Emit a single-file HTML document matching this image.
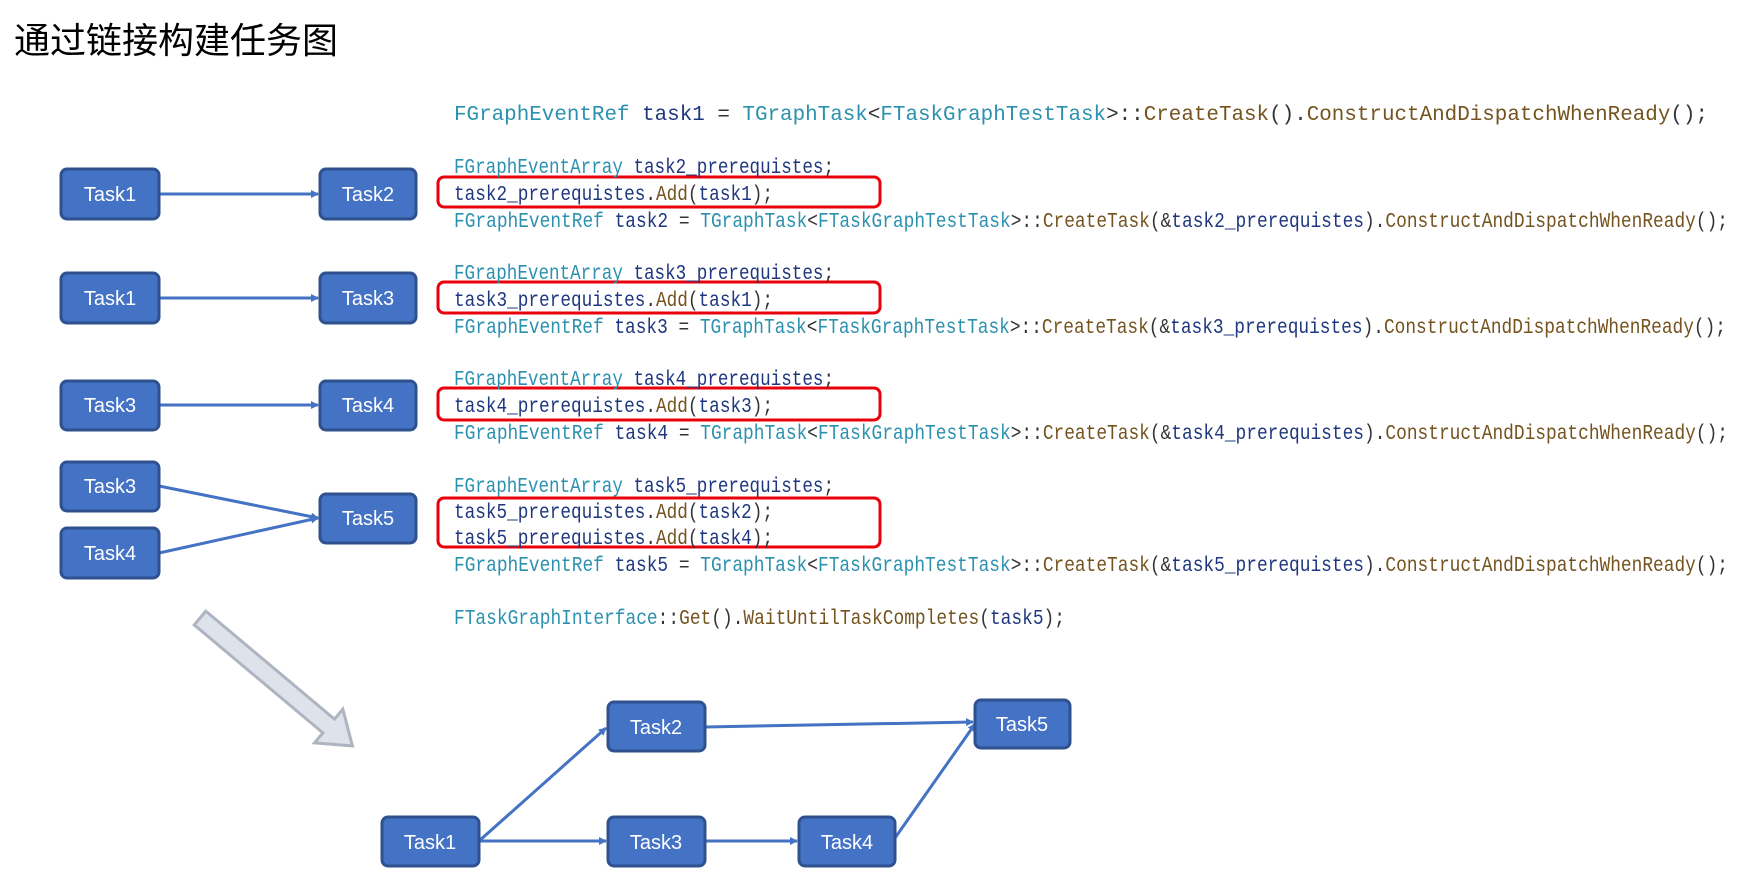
<!DOCTYPE html>
<html><head><meta charset="utf-8"><style>
body{margin:0;background:#fff;width:1748px;height:874px;overflow:hidden;position:relative}
.t{position:absolute;left:14px;top:12px;font:36px "Liberation Sans","Noto Sans CJK SC",sans-serif;color:#000}
</style></head><body>
<div class="t">通过链接构建任务图</div>
<svg width="1748" height="874" style="position:absolute;left:0;top:0">
<defs><marker id="a" markerWidth="8" markerHeight="8" refX="7" refY="4" orient="auto" markerUnits="userSpaceOnUse"><path d="M0,0 L8,4 L0,8z" fill="#4472C4"/></marker></defs>
<g stroke="#4472C4" stroke-width="3" fill="none" marker-end="url(#a)">
<line x1="159" y1="194" x2="318" y2="194"/>
<line x1="159" y1="298" x2="318" y2="298"/>
<line x1="159" y1="405" x2="318" y2="405"/>
<line x1="159" y1="486" x2="318" y2="518"/>
<line x1="159" y1="553" x2="318" y2="518"/>
<line x1="479" y1="841" x2="606" y2="728"/>
<line x1="705" y1="727" x2="973" y2="722"/>
<line x1="479" y1="841" x2="606" y2="841"/>
<line x1="705" y1="841" x2="797" y2="841"/>
<line x1="895" y1="838" x2="975" y2="724"/>
</g>
<g fill="#4472C4" stroke="#2F528F" stroke-width="3">
<rect x="61" y="169" width="98" height="50" rx="6"/><rect x="320" y="169" width="96" height="50" rx="6"/>
<rect x="61" y="273" width="98" height="50" rx="6"/><rect x="320" y="273" width="96" height="50" rx="6"/>
<rect x="61" y="381" width="98" height="49" rx="6"/><rect x="320" y="381" width="96" height="49" rx="6"/>
<rect x="61" y="462" width="98" height="49" rx="6"/><rect x="61" y="528" width="98" height="50" rx="6"/><rect x="320" y="494" width="96" height="49" rx="6"/>
<rect x="608" y="702" width="97" height="49" rx="6"/><rect x="975" y="700" width="95" height="48" rx="6"/>
<rect x="382" y="817" width="97" height="49" rx="6"/><rect x="608" y="817" width="97" height="49" rx="6"/><rect x="799" y="817" width="96" height="49" rx="6"/>
</g>
<g fill="#fff" font-family="Liberation Sans,sans-serif" font-size="20" text-anchor="middle">
<text x="110" y="201">Task1</text><text x="368" y="201">Task2</text>
<text x="110" y="305">Task1</text><text x="368" y="305">Task3</text>
<text x="110" y="412">Task3</text><text x="368" y="412">Task4</text>
<text x="110" y="493">Task3</text><text x="110" y="560">Task4</text><text x="368" y="525">Task5</text>
<text x="656" y="734">Task2</text><text x="1022" y="731">Task5</text>
<text x="430" y="849">Task1</text><text x="656" y="849">Task3</text><text x="847" y="849">Task4</text>
</g>
<g fill="none" stroke="#E8000B" stroke-width="3">
<rect x="438" y="177" width="442" height="30" rx="6"/>
<rect x="438" y="282" width="442" height="31" rx="6"/>
<rect x="438" y="388" width="442" height="32" rx="6"/>
<rect x="438" y="498" width="442" height="49" rx="6"/>
</g>
<g transform="translate(200,618) rotate(40)">
<polygon points="0,-9 168,-9 168,-22 199,0 168,22 168,9 0,9" fill="#DDE2EB" stroke="#AEB4C0" stroke-width="3"/>
</g>
<g font-family="Liberation Sans Narrow,Liberation Mono,monospace" font-size="21" fill="#333" lengthAdjust="spacingAndGlyphs">
<text x="454" y="120" textLength="1254" lengthAdjust="spacingAndGlyphs"><tspan fill="#2B91AF">FGraphEventRef</tspan> <tspan fill="#1F377F">task1</tspan> = <tspan fill="#2B91AF">TGraphTask</tspan>&lt;<tspan fill="#2B91AF">FTaskGraphTestTask</tspan>&gt;::<tspan fill="#74531F">CreateTask</tspan>().<tspan fill="#74531F">ConstructAndDispatchWhenReady</tspan>();</text>
<text x="454" y="173" textLength="380" lengthAdjust="spacingAndGlyphs"><tspan fill="#2B91AF">FGraphEventArray</tspan> <tspan fill="#1F377F">task2_prerequistes</tspan>;</text>
<text x="454" y="200" textLength="319" lengthAdjust="spacingAndGlyphs"><tspan fill="#1F377F">task2_prerequistes</tspan>.<tspan fill="#74531F">Add</tspan>(<tspan fill="#1F377F">task1</tspan>);</text>
<text x="454" y="227" textLength="1274" lengthAdjust="spacingAndGlyphs"><tspan fill="#2B91AF">FGraphEventRef</tspan> <tspan fill="#1F377F">task2</tspan> = <tspan fill="#2B91AF">TGraphTask</tspan>&lt;<tspan fill="#2B91AF">FTaskGraphTestTask</tspan>&gt;::<tspan fill="#74531F">CreateTask</tspan>(&amp;<tspan fill="#1F377F">task2_prerequistes</tspan>).<tspan fill="#74531F">ConstructAndDispatchWhenReady</tspan>();</text>
<text x="454" y="279" textLength="380" lengthAdjust="spacingAndGlyphs"><tspan fill="#2B91AF">FGraphEventArray</tspan> <tspan fill="#1F377F">task3_prerequistes</tspan>;</text>
<text x="454" y="306" textLength="319" lengthAdjust="spacingAndGlyphs"><tspan fill="#1F377F">task3_prerequistes</tspan>.<tspan fill="#74531F">Add</tspan>(<tspan fill="#1F377F">task1</tspan>);</text>
<text x="454" y="333" textLength="1272" lengthAdjust="spacingAndGlyphs"><tspan fill="#2B91AF">FGraphEventRef</tspan> <tspan fill="#1F377F">task3</tspan> = <tspan fill="#2B91AF">TGraphTask</tspan>&lt;<tspan fill="#2B91AF">FTaskGraphTestTask</tspan>&gt;::<tspan fill="#74531F">CreateTask</tspan>(&amp;<tspan fill="#1F377F">task3_prerequistes</tspan>).<tspan fill="#74531F">ConstructAndDispatchWhenReady</tspan>();</text>
<text x="454" y="385" textLength="380" lengthAdjust="spacingAndGlyphs"><tspan fill="#2B91AF">FGraphEventArray</tspan> <tspan fill="#1F377F">task4_prerequistes</tspan>;</text>
<text x="454" y="412" textLength="319" lengthAdjust="spacingAndGlyphs"><tspan fill="#1F377F">task4_prerequistes</tspan>.<tspan fill="#74531F">Add</tspan>(<tspan fill="#1F377F">task3</tspan>);</text>
<text x="454" y="439" textLength="1274" lengthAdjust="spacingAndGlyphs"><tspan fill="#2B91AF">FGraphEventRef</tspan> <tspan fill="#1F377F">task4</tspan> = <tspan fill="#2B91AF">TGraphTask</tspan>&lt;<tspan fill="#2B91AF">FTaskGraphTestTask</tspan>&gt;::<tspan fill="#74531F">CreateTask</tspan>(&amp;<tspan fill="#1F377F">task4_prerequistes</tspan>).<tspan fill="#74531F">ConstructAndDispatchWhenReady</tspan>();</text>
<text x="454" y="492" textLength="380" lengthAdjust="spacingAndGlyphs"><tspan fill="#2B91AF">FGraphEventArray</tspan> <tspan fill="#1F377F">task5_prerequistes</tspan>;</text>
<text x="454" y="518" textLength="319" lengthAdjust="spacingAndGlyphs"><tspan fill="#1F377F">task5_prerequistes</tspan>.<tspan fill="#74531F">Add</tspan>(<tspan fill="#1F377F">task2</tspan>);</text>
<text x="454" y="544" textLength="319" lengthAdjust="spacingAndGlyphs"><tspan fill="#1F377F">task5_prerequistes</tspan>.<tspan fill="#74531F">Add</tspan>(<tspan fill="#1F377F">task4</tspan>);</text>
<text x="454" y="571" textLength="1274" lengthAdjust="spacingAndGlyphs"><tspan fill="#2B91AF">FGraphEventRef</tspan> <tspan fill="#1F377F">task5</tspan> = <tspan fill="#2B91AF">TGraphTask</tspan>&lt;<tspan fill="#2B91AF">FTaskGraphTestTask</tspan>&gt;::<tspan fill="#74531F">CreateTask</tspan>(&amp;<tspan fill="#1F377F">task5_prerequistes</tspan>).<tspan fill="#74531F">ConstructAndDispatchWhenReady</tspan>();</text>
<text x="454" y="624" textLength="611" lengthAdjust="spacingAndGlyphs"><tspan fill="#2B91AF">FTaskGraphInterface</tspan>::<tspan fill="#74531F">Get</tspan>().<tspan fill="#74531F">WaitUntilTaskCompletes</tspan>(<tspan fill="#1F377F">task5</tspan>);</text>
</g>
</svg>
</body></html>
